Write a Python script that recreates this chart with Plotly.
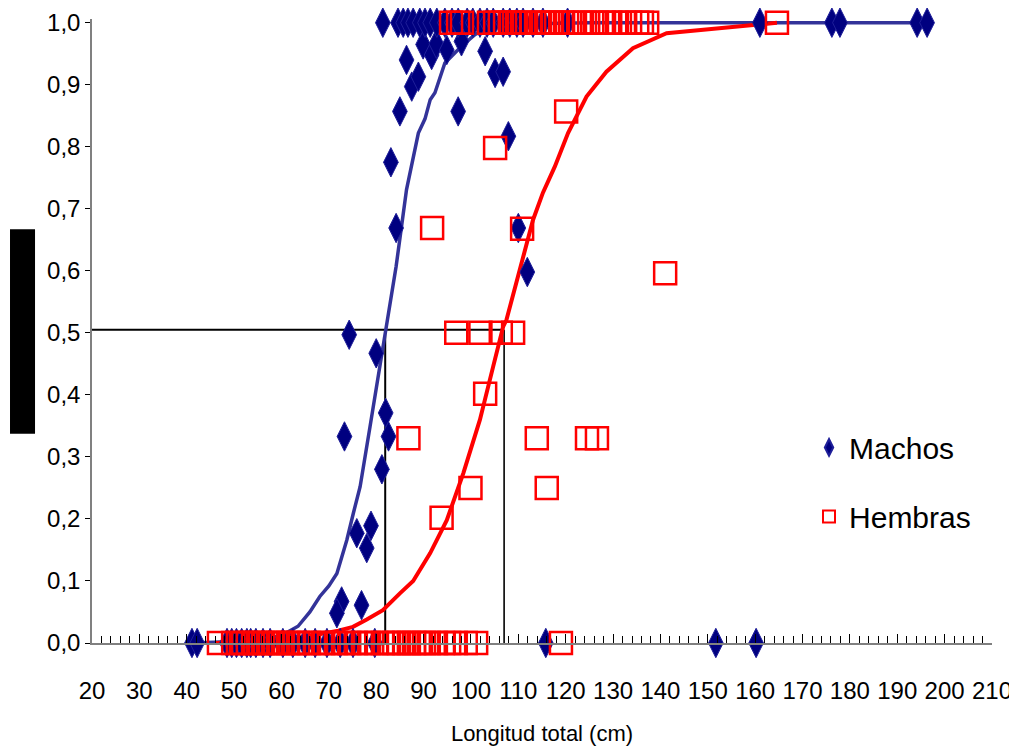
import plotly.graph_objects as go

# ---------------- data ----------------
# Males (Machos) - observed proportions
machos_top_x = [81.4, 84.6, 85.7, 86.7, 87.8, 89.2, 90.3, 91.4, 92.8, 94.5, 96.0, 97.3,
                99.2, 100.4, 101.9, 103.4, 104.7, 106.8, 108.2, 109.7, 111.0, 113.1,
                115.2, 120.4, 161.0, 176.2, 177.9, 194.2, 196.3]
machos_mid_x = [72.7, 71.7, 76.9, 75.9, 78.9, 78.0, 73.3, 82.0, 82.6, 81.2, 80.0, 74.3,
                83.1, 84.2, 85.0, 86.4, 87.5, 88.9, 89.9, 91.7, 92.7, 94.9, 98.0, 97.3,
                103.0, 105.1, 106.8, 107.9, 110.0, 111.9]
machos_mid_p = [0.067, 0.048, 0.061, 0.177, 0.189, 0.153, 0.333, 0.371, 0.333, 0.28, 0.467,
                0.497, 0.775, 0.669, 0.857, 0.94, 0.897, 0.913, 0.965, 0.948, 0.966, 0.956,
                0.97, 0.857, 0.954, 0.919, 0.921, 0.817, 0.669, 0.598]
machos_zero_x = [41.1, 42.2, 48.5, 49.5, 50.5, 51.6, 52.7, 53.5, 54.6, 56.1, 57.6, 60.3,
                 62.4, 65.0, 67.1, 69.6, 72.4, 75.1, 79.7, 115.8, 151.7, 160.2]

# Females (Hembras) - observed proportions
hembras_top_x = [95.8, 97.3, 98.1, 103.8, 105.1, 106.1, 107.2, 108.2, 109.1, 110.1, 111.2,
                 112.7, 114.2, 115.2, 116.3, 117.1, 118.0, 119.2, 120.3, 121.5, 123.0,
                 124.1, 125.6, 126.6, 128.1, 129.4, 130.8, 132.3, 133.6, 135.1, 136.1,
                 137.2, 164.6]
hembras_mid_x = [91.8, 86.8, 93.8, 99.9, 96.9, 102.0, 106.3, 108.9, 103.0, 113.9, 116.0,
                 124.5, 126.6, 105.1, 110.8, 120.1, 141.0]
hembras_mid_p = [0.669, 0.33, 0.202, 0.25, 0.5, 0.5, 0.5, 0.5, 0.402, 0.33, 0.25,
                 0.33, 0.33, 0.798, 0.668, 0.857, 0.596]
hembras_zero_x = [46.8, 49.8, 50.8, 51.9, 52.9, 54.0, 55.0, 56.1, 57.2, 58.2, 59.3, 60.3,
                  61.4, 62.4, 63.5, 64.5, 65.8, 67.3, 68.8, 70.0, 71.5, 73.0, 74.3, 75.7,
                  77.2, 78.5, 80.0, 81.4, 82.7, 83.8, 84.8, 85.9, 86.9, 88.0, 89.0, 90.1,
                  91.1, 92.6, 94.1, 95.4, 96.8, 98.9, 101.1, 119.0]

# Fitted ogives
curva_machos_x = [41, 47, 52, 56, 60, 63.5, 66, 68.1, 70, 71.7, 73.8, 75.2, 76.6, 78.7,
                  80.8, 82.2, 84.2, 86.4, 88.9, 90.3, 91.4, 92.4, 94.5, 98.0, 100.9, 104,
                  110, 125, 161, 196.3]
curva_machos_p = [0.0, 0.001, 0.003, 0.006, 0.012, 0.027, 0.05, 0.075, 0.092, 0.112, 0.166,
                  0.21, 0.252, 0.349, 0.446, 0.51, 0.607, 0.731, 0.822, 0.845, 0.876, 0.887,
                  0.935, 0.962, 0.981, 0.993, 0.998, 1.0, 1.0, 1.0]
curva_hembras_x = [46, 55, 62, 68, 72, 75.1, 78, 81.4, 85, 87.8, 91.4, 94.9, 98.4, 101.9,
                   104.7, 106.8, 107.5, 111.4, 113.1, 115.2, 117.7, 120.5, 124.4, 128.6,
                   134.2, 141.3, 164.6]
curva_hembras_p = [0.0, 0.003, 0.008, 0.014, 0.02, 0.026, 0.038, 0.053, 0.08, 0.1, 0.145,
                   0.198, 0.274, 0.36, 0.446, 0.51, 0.521, 0.629, 0.682, 0.726, 0.768,
                   0.822, 0.881, 0.921, 0.959, 0.983, 1.0]

# Reference lines: 50 % maturity (L50)
p50 = 0.505
l50_machos = 81.9
l50_hembras = 107.0
x_min, x_max = 20, 210

FONT = "Liberation Sans, Arial, sans-serif"
NAVY = "#000080"
BLUE_LINE = "#333399"
RED = "#FF0000"

m_x = machos_zero_x + machos_mid_x + machos_top_x
m_y = [0.0] * len(machos_zero_x) + machos_mid_p + [1.0] * len(machos_top_x)
h_x = hembras_zero_x + hembras_mid_x + hembras_top_x
h_y = [0.0] * len(hembras_zero_x) + hembras_mid_p + [1.0] * len(hembras_top_x)

fig = go.Figure()

# black reference lines
fig.add_trace(go.Scatter(x=[x_min, l50_hembras], y=[p50, p50], mode="lines",
                         line=dict(color="black", width=2), showlegend=False, hoverinfo="skip"))
fig.add_trace(go.Scatter(x=[l50_machos, l50_machos], y=[0, p50], mode="lines",
                         line=dict(color="black", width=2), showlegend=False, hoverinfo="skip"))
fig.add_trace(go.Scatter(x=[l50_hembras, l50_hembras], y=[0, p50], mode="lines",
                         line=dict(color="black", width=1.6), showlegend=False, hoverinfo="skip"))

# ogives
fig.add_trace(go.Scatter(x=curva_machos_x, y=curva_machos_p, mode="lines",
                         line=dict(color=BLUE_LINE, width=3.5), showlegend=False))
fig.add_trace(go.Scatter(x=curva_hembras_x, y=curva_hembras_p, mode="lines",
                         line=dict(color=RED, width=4), showlegend=False))

# observations
fig.add_trace(go.Scatter(x=m_x, y=m_y, mode="markers", name="Machos", legendgroup="m",
                         marker=dict(symbol="diamond-tall", size=21, color=NAVY,
                                     line=dict(color="#1f1f99", width=1)),
                         cliponaxis=False))
fig.add_trace(go.Scatter(x=h_x, y=h_y, mode="markers", name="Hembras", legendgroup="h",
                         marker=dict(symbol="square-open", size=22, color=RED,
                                     line=dict(color=RED, width=2.5)),
                         cliponaxis=False))

fig.update_layout(
    width=1009, height=748,
    margin=dict(l=84, r=25, t=11, b=113, autoexpand=False),
    plot_bgcolor="white", paper_bgcolor="white",
    separators=",.",
    font=dict(family=FONT, color="black", size=24),
    showlegend=True,
    legend=dict(x=0.7967, y=0.355, xanchor="left", yanchor="top",
                font=dict(family=FONT, size=30, color="black"),
                tracegroupgap=27, bgcolor="rgba(0,0,0,0)", itemsizing="constant"),
    xaxis=dict(range=[x_min, x_max], tick0=20, dtick=10, ticks="inside", ticklen=9,
               tickcolor="black", tickwidth=1, showline=True, linecolor="#808080",
               linewidth=1.5, showgrid=False, zeroline=False, automargin=False,
               minor=dict(dtick=2, ticks="inside", ticklen=7, tickcolor="black", tickwidth=1),
               tickfont=dict(family=FONT, size=24), ticklabelstandoff=25,
               title=dict(text="Longitud total (cm)", font=dict(family=FONT, size=22),
                          standoff=23)),
    yaxis=dict(range=[0, 1.006], tick0=0, dtick=0.1, tickformat=".1f", ticks="outside",
               ticklen=5, tickcolor="black", showline=True, linecolor="#808080",
               linewidth=1.5, showgrid=False, zeroline=False, automargin=False,
               tickfont=dict(family=FONT, size=24)),
    shapes=[dict(type="rect", xref="paper", yref="paper", x0=-0.0911, x1=-0.0633,
                 y0=0.3355, y1=0.6629, fillcolor="black", line=dict(width=0))],
)

fig.write_html("out.html")
